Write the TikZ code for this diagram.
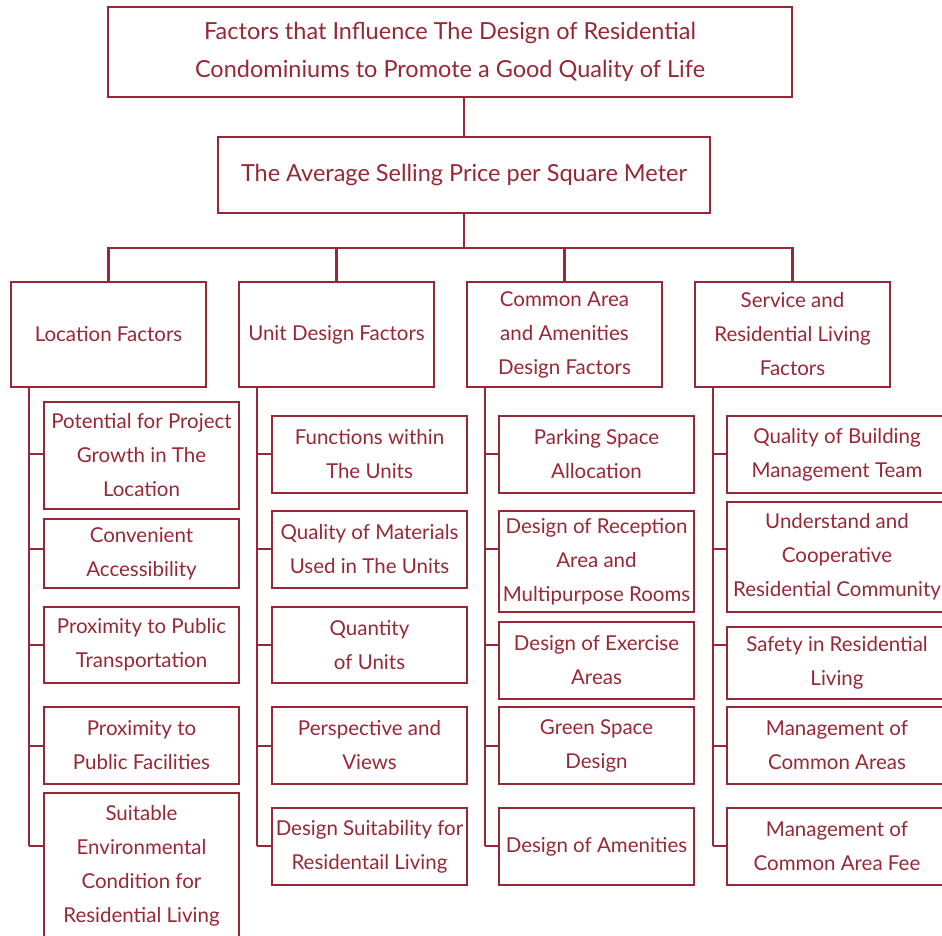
\documentclass[tikz,border=0pt]{standalone}
\usepackage{fontspec}
\setmainfont{Lato}
\definecolor{dred}{RGB}{152,40,54}
\tikzset{
  x=1pt, y=-1pt,
  box/.style={draw=dred, line width=2.2pt, text=dred, align=center, inner sep=0pt},
  big/.style={box, font=\fontsize{23.5}{38}\selectfont},
  cat/.style={box, minimum width=195pt, minimum height=105pt, font=\fontsize{20.5}{34}\selectfont},
  leaf/.style={box, minimum width=195pt, font=\fontsize{20.5}{34}\selectfont},
  conn/.style={draw=dred, line width=2.2pt}
}
\begin{document}
\begin{tikzpicture}
\useasboundingbox (0,0) rectangle (942,935);
\clip (0,0) rectangle (942,935);
\fill[white] (0,0) rectangle (942,935);
% top levels
\node[big, minimum width=684pt, minimum height=90pt] (top) at (450,52)
  {Factors that Influence The Design of Residential\\Condominiums to Promote a Good Quality of Life};
\node[big, minimum width=492pt, minimum height=76pt] (avg) at (464,175)
  {The Average Selling Price per Square Meter};
% categories
\node[cat] (loc) at (108.5,334.5) {Location Factors};
\node[cat] (unit) at (336.5,334.5) {Unit Design Factors};
\node[cat] (com) at (564.5,334.5) {Common Area\\and Amenities\\Design Factors};
\node[cat] (serv) at (792.5,334.5) {Service and\\Residential Living\\Factors};
% location leaves
\node[leaf, minimum height=107pt] (L1) at (141.5,455.5) {Potential for Project\\Growth in The\\Location};
\node[leaf, minimum height=69pt] (L2) at (141.5,553.5) {Convenient\\Accessibility};
\node[leaf, minimum height=76pt] (L3) at (141.5,645) {Proximity to Public\\Transportation};
\node[leaf, minimum height=77pt] (L4) at (141.5,745.5) {Proximity to\\Public Facilities};
\node[leaf, minimum height=146pt] (L5) at (141.5,866) {Suitable\\Environmental\\Condition for\\Residential Living};
% unit leaves
\node[leaf, minimum height=77pt] (U1) at (369.5,454.5) {Functions within\\The Units};
\node[leaf, minimum height=77pt] (U2) at (369.5,549.5) {Quality of Materials\\Used in The Units};
\node[leaf, minimum height=76pt] (U3) at (369.5,645) {Quantity\\of Units};
\node[leaf, minimum height=77pt] (U4) at (369.5,745.5) {Perspective and\\Views};
\node[leaf, minimum height=77pt] (U5) at (369.5,846.5) {Design Suitability for\\Residentail Living};
% common leaves
\node[leaf, minimum height=77pt] (C1) at (596.5,454.5) {Parking Space\\Allocation};
\node[leaf, minimum height=101pt] (C2) at (596.5,561.5) {Design of Reception\\Area and\\Multipurpose Rooms};
\node[leaf, minimum height=77pt] (C3) at (596.5,660.5) {Design of Exercise\\Areas};
\node[leaf, minimum height=77pt] (C4) at (596.5,745.5) {Green Space\\Design};
\node[leaf, minimum height=77pt] (C5) at (596.5,846.5) {Design of Amenities};
% service leaves
\node[leaf, minimum width=220pt, minimum height=77pt] (S1) at (837,454.5) {Quality of Building\\Management Team};
\node[leaf, minimum width=220pt, minimum height=110pt] (S2) at (837,557) {Understand and\\Cooperative\\Residential Community};
\node[leaf, minimum width=220pt, minimum height=72pt] (S3) at (837,663) {Safety in Residential\\Living};
\node[leaf, minimum width=220pt, minimum height=77pt] (S4) at (837,745.5) {Management of\\Common Areas};
\node[leaf, minimum width=220pt, minimum height=77pt] (S5) at (837,846.5) {Management of\\Common Area Fee};
% row levels and bar
\coordinate (bar) at (465,248);
\coordinate (r1) at (0,454);
\coordinate (r2) at (0,549);
\coordinate (r3) at (0,645);
\coordinate (r4) at (0,746);
\coordinate (r5) at (0,846);
\coordinate (tL) at ([xshift=19pt]loc.south west);
\coordinate (tU) at ([xshift=19pt]unit.south west);
\coordinate (tC) at ([xshift=19pt]com.south west);
\coordinate (tS) at ([xshift=19pt]serv.south west);
% connectors
\draw[conn] (avg.north) -- (avg.north |- top.south);
\draw[conn] (avg.south) -- (avg.south |- bar);
\draw[conn] (loc.north) |- (bar) -| (serv.north);
\draw[conn] (unit.north) -- (unit.north |- bar);
\draw[conn] (com.north) -- (com.north |- bar);
\foreach \t/\c in {tL/L, tU/U, tC/C, tS/S}{
  \draw[conn] (\t) -- (\t |- r5);
  \foreach \i in {1,...,5}{
    \draw[conn] (\t |- r\i) -- (\c\i.west |- r\i);
  }
}
\end{tikzpicture}
\end{document}
